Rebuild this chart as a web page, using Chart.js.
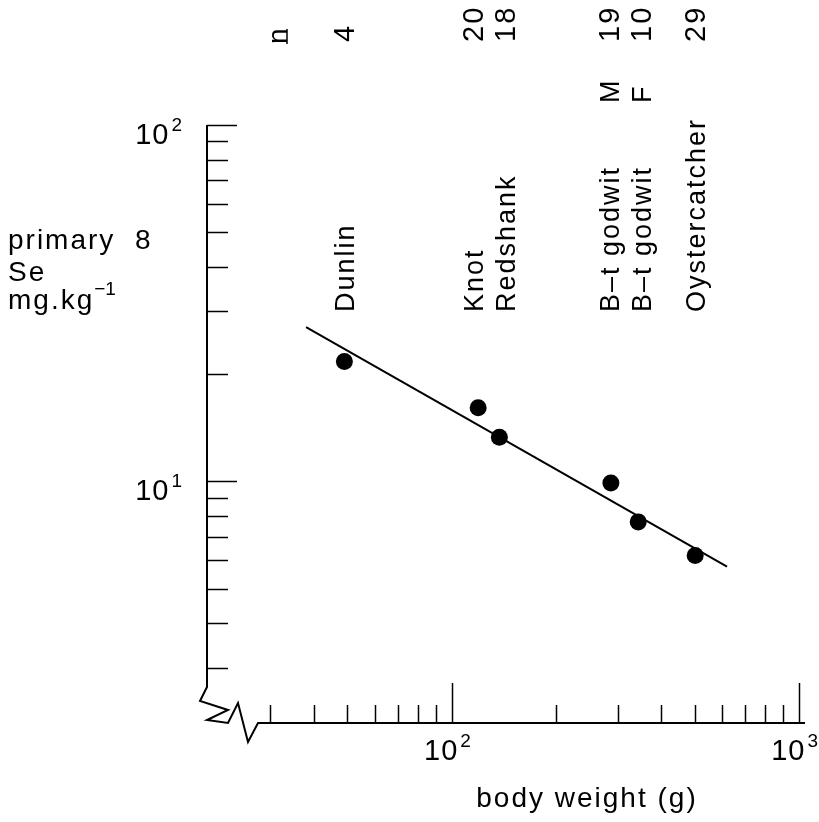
<!DOCTYPE html>
<html>
<head>
<meta charset="utf-8">
<title>Primary Se vs body weight</title>
<script src="https://cdn.jsdelivr.net/npm/chart.js@4.4.0/dist/chart.umd.min.js"></script>
<style>
  html, body { margin: 0; padding: 0; background: #fff; }
  canvas { display: block; }
</style>
</head>
<body>
<canvas id="seChart" width="819" height="822"></canvas>
<script>
// Primary Se (mg/kg) against body weight (g) in waders, log-log with fitted line

const species = ['Dunlin', 'Knot', 'Redshank', 'B\u2013t godwit', 'B\u2013t godwit', 'Oystercatcher'];
const sexes = ['', '', '', 'M', 'F', ''];
const sampleSizes = ['4', '20', '18', '19', '10', '29'];
const bodyWeight = [49, 119, 137, 287, 344, 502];
const seLevel = [21.7, 16.1, 13.3, 9.9, 7.7, 6.2];
const fitWeight = [38, 620];
const fitSe = [27.1, 5.77];
const xTicks = [30, 40, 50, 60, 70, 80, 90, 100, 200, 300, 400, 500, 600, 700, 800, 900, 1000];
const yTicks = [3, 4, 5, 6, 7, 8, 9, 10, 20, 30, 40, 50, 60, 70, 80, 90, 100];
const yTitleLines = ['primary  8', 'Se', 'mg.kg'];
const xTitle = 'body weight (g)';

const FONT = '"Liberation Sans", Arial, sans-serif';

function isDecade(v) {
    const l = Math.log10(v);
    return Math.abs(l - Math.round(l)) < 1e-9;
}

// draws "10" with a raised exponent
function drawPower(ctx, value, x, y, align) {
    const exp = String(Math.round(Math.log10(value)));
    ctx.letterSpacing = '1px';
    ctx.font = '29px ' + FONT;
    const wBase = ctx.measureText('10').width;
    ctx.font = '19px ' + FONT;
    const wExp = ctx.measureText(exp).width;
    const total = wBase + 2 + wExp;
    const x0 = align === 'right' ? x - total : x - total / 2;
    ctx.textAlign = 'left';
    ctx.textBaseline = 'alphabetic';
    ctx.font = '29px ' + FONT;
    ctx.fillText('10', x0, y);
    ctx.font = '19px ' + FONT;
    ctx.fillText(exp, x0 + wBase + 2, y - 13);
}

// rotated text reading bottom to top, glyphs centred on column x
function drawUp(ctx, text, x, yStart) {
    ctx.save();
    ctx.translate(x + 10, yStart);
    ctx.rotate(-Math.PI / 2);
    ctx.textAlign = 'left';
    ctx.textBaseline = 'alphabetic';
    ctx.fillText(text, 0, 0);
    ctx.restore();
}

// label columns follow the points but are pushed apart when they crowd
function labelColumns(xs) {
    const cols = xs.slice();
    const minGap = 32;
    for (let i = 1; i < cols.length; i++) {
        if (cols[i] - cols[i - 1] < minGap) {
            const mid = (cols[i] + cols[i - 1]) / 2;
            cols[i - 1] = mid - minGap / 2;
            cols[i] = mid + minGap / 2;
        }
    }
    return cols;
}

const plotterAxes = {
    id: 'plotterAxes',
    beforeDatasetsDraw(chart) {
        const ctx = chart.ctx;
        const { left, right, top, bottom } = chart.chartArea;
        const xs = chart.scales.x;
        const ys = chart.scales.y;
        ctx.save();
        ctx.strokeStyle = '#000';
        ctx.lineJoin = 'miter';

        // axis lines with the break at the origin
        ctx.lineWidth = 2;
        ctx.beginPath();
        ctx.moveTo(left, top);
        ctx.lineTo(left, bottom - 36);
        ctx.lineTo(left - 7, bottom - 22);
        ctx.lineTo(left + 21, bottom - 13);
        ctx.lineTo(left, bottom - 3);
        ctx.lineTo(left + 21, bottom);
        ctx.lineTo(left + 31, bottom - 20);
        ctx.lineTo(left + 41, bottom + 19);
        ctx.lineTo(left + 51, bottom);
        ctx.lineTo(right, bottom);
        ctx.stroke();

        // inward tick marks
        ctx.lineWidth = 1.5;
        xs.ticks.forEach(t => {
            const px = Math.round(xs.getPixelForValue(t.value)) + 0.5;
            const len = isDecade(t.value) ? 40 : 18;
            ctx.beginPath();
            ctx.moveTo(px, bottom);
            ctx.lineTo(px, bottom - len);
            ctx.stroke();
        });
        ys.ticks.forEach(t => {
            const py = Math.round(ys.getPixelForValue(t.value)) + 0.5;
            const len = isDecade(t.value) ? 30 : 21;
            ctx.beginPath();
            ctx.moveTo(left, py);
            ctx.lineTo(left + len, py);
            ctx.stroke();
        });
        ctx.restore();
    },
    afterDraw(chart) {
        const ctx = chart.ctx;
        const { left, bottom } = chart.chartArea;
        const xs = chart.scales.x;
        const ys = chart.scales.y;
        ctx.save();
        ctx.fillStyle = '#000';

        // decade labels
        xs.ticks.filter(t => isDecade(t.value)).forEach(t => {
            drawPower(ctx, t.value, xs.getPixelForValue(t.value) - 4, bottom + 37, 'center');
        });
        ys.ticks.filter(t => isDecade(t.value)).forEach(t => {
            drawPower(ctx, t.value, left - 24, ys.getPixelForValue(t.value) + 19, 'right');
        });

        ctx.letterSpacing = '2px';
        ctx.font = '28px ' + FONT;
        ctx.textAlign = 'left';
        ctx.textBaseline = 'alphabetic';

        // y title
        ctx.fillText(yTitleLines[0], 8, 249);
        ctx.fillText(yTitleLines[1], 8, 281);
        ctx.fillText(yTitleLines[2], 8, 309);
        const wUnit = ctx.measureText(yTitleLines[2]).width;
        ctx.letterSpacing = '0px';
        ctx.font = '19px ' + FONT;
        ctx.fillText('\u22121', 8 + wUnit, 295);

        // x title
        ctx.letterSpacing = '2px';
        ctx.font = '28px ' + FONT;
        ctx.textAlign = 'center';
        ctx.fillText(xTitle, 587, 807);

        // species names, sexes and sample sizes above the points
        const cols = labelColumns(bodyWeight.map(w => xs.getPixelForValue(w)));
        ctx.font = '27px ' + FONT;
        cols.forEach((x, i) => {
            drawUp(ctx, species[i], x, 312);
            if (sexes[i]) drawUp(ctx, sexes[i], x, 103);
        });
        ctx.font = '29px ' + FONT;
        cols.forEach((x, i) => {
            drawUp(ctx, sampleSizes[i], x, 42);
        });

        // "n" header, underlined
        ctx.font = '28px ' + FONT;
        drawUp(ctx, 'n', left + 70, 44);
        ctx.lineWidth = 1.5;
        ctx.beginPath();
        ctx.moveTo(left + 80, 44);
        ctx.lineTo(left + 80, 29);
        ctx.stroke();

        ctx.letterSpacing = '0px';
        ctx.restore();
    }
};

const ctx = document.getElementById('seChart');
window.seChart = new Chart(ctx, {
    type: 'scatter',
    data: {
        datasets: [
            {
                label: 'Primary Se',
                data: bodyWeight.map((w, i) => ({ x: w, y: seLevel[i] })),
                backgroundColor: '#000',
                borderColor: '#000',
                pointRadius: 8.5,
                pointHoverRadius: 8.5,
                borderWidth: 0
            },
            {
                label: 'Fit',
                data: fitWeight.map((w, i) => ({ x: w, y: fitSe[i] })),
                showLine: true,
                borderColor: '#000',
                borderWidth: 2,
                pointRadius: 0,
                fill: false
            }
        ]
    },
    options: {
        responsive: false,
        animation: false,
        devicePixelRatio: 1,
        events: [],
        layout: {
            padding: { left: 207, top: 125, right: 14, bottom: 99 }
        },
        plugins: {
            legend: { display: false },
            tooltip: { enabled: false }
        },
        scales: {
            x: {
                type: 'logarithmic',
                min: 19.7,
                max: 1040,
                afterBuildTicks: scale => { scale.ticks = xTicks.map(v => ({ value: v })); },
                grid: { display: false, drawTicks: false },
                border: { display: false },
                ticks: { display: false }
            },
            y: {
                type: 'logarithmic',
                min: 2.1,
                max: 100,
                afterBuildTicks: scale => { scale.ticks = yTicks.map(v => ({ value: v })); },
                grid: { display: false, drawTicks: false },
                border: { display: false },
                ticks: { display: false }
            }
        }
    },
    plugins: [plotterAxes]
});
</script>
</body>
</html>
